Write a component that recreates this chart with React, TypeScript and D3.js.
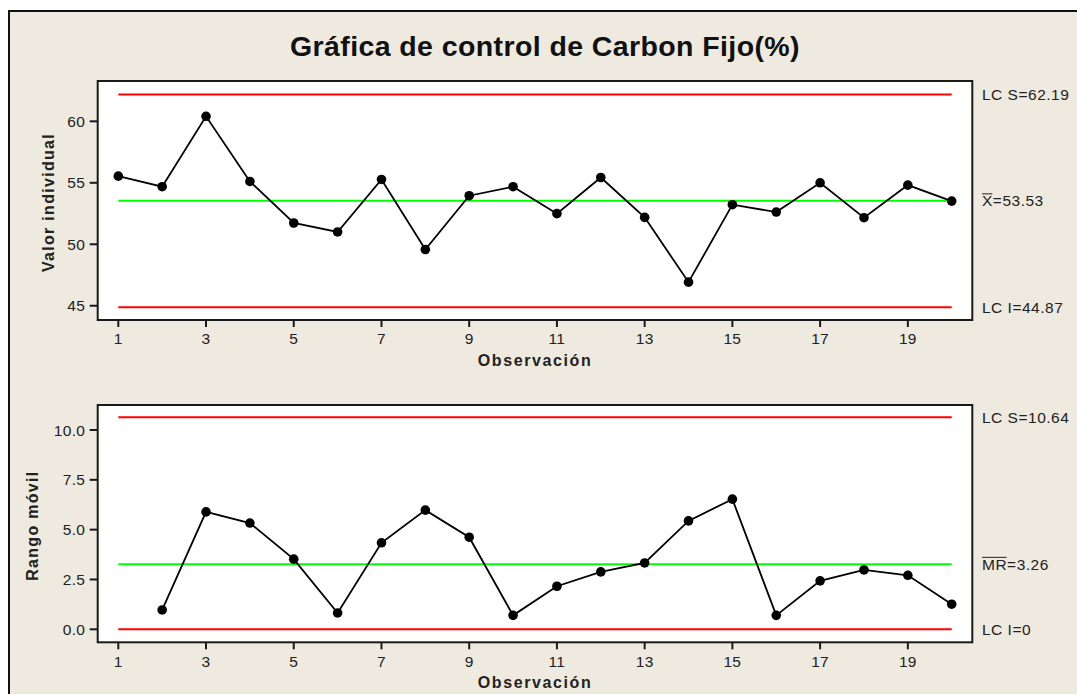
import React, { useEffect, useRef } from "react";
import * as d3 from "d3";

// ---- Data ----
const observations = [1, 2, 3, 4, 5, 6, 7, 8, 9, 10, 11, 12, 13, 14, 15, 16, 17, 18, 19, 20];
const individualValues = [55.54, 54.68, 60.41, 55.11, 51.73, 51.0, 55.27, 49.57, 53.95, 54.68, 52.49, 55.43, 52.19, 46.92, 53.22, 52.62, 55.0, 52.16, 54.81, 53.51];
const movingRanges: (number | null)[] = [null, 0.97, 5.89, 5.33, 3.52, 0.82, 4.34, 5.98, 4.62, 0.7, 2.16, 2.88, 3.33, 5.44, 6.53, 0.7, 2.43, 2.98, 2.71, 1.26];
const xTickValues = [1, 3, 5, 7, 9, 11, 13, 15, 17, 19];
const individualTicks = [45, 50, 55, 60];
const rangeTicks = [0, 2.5, 5, 7.5, 10];
const individualLimits = { ucl: 62.19, cl: 53.53, lcl: 44.87 };
const rangeLimits = { ucl: 10.64, cl: 3.26, lcl: 0 };
const individualLabels = { ucl: "LC S=62.19", clBar: "X", clRest: "=53.53", lcl: "LC I=44.87" };
const rangeLabels = { ucl: "LC S=10.64", clBar: "MR", clRest: "=3.26", lcl: "LC I=0" };

const W = 1077;
const H = 694;
const FONT = "'Liberation Sans', Arial, sans-serif";

export default function App() {
  const ref = useRef<SVGSVGElement | null>(null);

  useEffect(() => {
    const svg = d3.select(ref.current);
    svg.selectAll("*").remove();

    // page background + frame
    svg.append("rect").attr("x", 0).attr("y", 0).attr("width", W).attr("height", H).attr("fill", "#ffffff");
    svg
      .append("rect")
      .attr("x", 9)
      .attr("y", 11)
      .attr("width", W + 20)
      .attr("height", H + 20)
      .attr("fill", "#EEEAE0")
      .attr("stroke", "#111")
      .attr("stroke-width", 2);

    svg
      .append("text")
      .attr("x", 545)
      .attr("y", 56)
      .attr("text-anchor", "middle")
      .attr("font-family", FONT)
      .attr("font-weight", "bold")
      .attr("font-size", 28.5)
      .attr("letter-spacing", 0.4)
      .attr("fill", "#111")
      .text("Gráfica de control de Carbon Fijo(%)");

    const x = d3.scaleLinear().domain([1, 20]).range([118.3, 951.7]);
    const boxLeft = 97.7;
    const boxRight = 972.3;

    type Panel = {
      top: number;
      bottom: number;
      domain: [number, number];
      values: (number | null)[];
      ticks: number[];
      fmt: (v: number) => string;
      limits: { ucl: number; cl: number; lcl: number };
      labels: { ucl: string; clBar: string; clRest: string; lcl: string };
      yTitle: string;
      yTitleX: number;
      xTickBaseline: number;
      xTitleBaseline: number;
    };

    const panels: Panel[] = [
      {
        top: 81,
        bottom: 320,
        domain: [43.84, 63.28],
        values: individualValues,
        ticks: individualTicks,
        fmt: (v) => d3.format("d")(v),
        limits: individualLimits,
        labels: individualLabels,
        yTitle: "Valor individual",
        yTitleX: 53.5,
        xTickBaseline: 344.3,
        xTitleBaseline: 365.5,
      },
      {
        top: 405,
        bottom: 642.3,
        domain: [-0.652, 11.254],
        values: movingRanges,
        ticks: rangeTicks,
        fmt: (v) => d3.format(".1f")(v),
        limits: rangeLimits,
        labels: rangeLabels,
        yTitle: "Rango móvil",
        yTitleX: 37.5,
        xTickBaseline: 666.7,
        xTitleBaseline: 687.5,
      },
    ];

    panels.forEach((p) => {
      const y = d3.scaleLinear().domain(p.domain).range([p.bottom, p.top]);
      const g = svg.append("g");

      g.append("rect")
        .attr("x", boxLeft)
        .attr("y", p.top)
        .attr("width", boxRight - boxLeft)
        .attr("height", p.bottom - p.top)
        .attr("fill", "#ffffff")
        .attr("stroke", "#1a1a1a")
        .attr("stroke-width", 2);

      // y ticks
      p.ticks.forEach((t) => {
        g.append("line")
          .attr("x1", boxLeft - 8)
          .attr("x2", boxLeft)
          .attr("y1", y(t))
          .attr("y2", y(t))
          .attr("stroke", "#1a1a1a")
          .attr("stroke-width", 2);
        g.append("text")
          .attr("x", boxLeft - 12.5)
          .attr("y", y(t))
          .attr("dy", "0.36em")
          .attr("text-anchor", "end")
          .attr("font-family", FONT)
          .attr("font-size", 15.5)
          .attr("letter-spacing", 0.3)
          .attr("fill", "#222")
          .text(p.fmt(t));
      });

      // x ticks
      xTickValues.forEach((t) => {
        g.append("line")
          .attr("x1", x(t))
          .attr("x2", x(t))
          .attr("y1", p.bottom)
          .attr("y2", p.bottom + 7)
          .attr("stroke", "#1a1a1a")
          .attr("stroke-width", 2);
        g.append("text")
          .attr("x", x(t))
          .attr("y", p.xTickBaseline)
          .attr("text-anchor", "middle")
          .attr("font-family", FONT)
          .attr("font-size", 15.5)
          .attr("letter-spacing", 0.3)
          .attr("fill", "#222")
          .text(String(t));
      });

      // axis titles
      g.append("text")
        .attr("x", 535)
        .attr("y", p.xTitleBaseline)
        .attr("text-anchor", "middle")
        .attr("font-family", FONT)
        .attr("font-weight", "bold")
        .attr("font-size", 16)
        .attr("letter-spacing", 1.6)
        .attr("fill", "#222")
        .text("Observación");

      g.append("text")
        .attr("transform", `translate(${p.yTitleX},${(p.top + p.bottom) / 2 + 2}) rotate(-90)`)
        .attr("text-anchor", "middle")
        .attr("font-family", FONT)
        .attr("font-weight", "bold")
        .attr("font-size", 16)
        .attr("letter-spacing", 1.3)
        .attr("fill", "#222")
        .text(p.yTitle);

      // limit lines
      const limitLines: [number, string][] = [
        [p.limits.ucl, "#FF0000"],
        [p.limits.lcl, "#FF0000"],
        [p.limits.cl, "#00FF00"],
      ];
      limitLines.forEach(([v, c]) => {
        g.append("line")
          .attr("x1", x(observations[0]))
          .attr("x2", x(observations[observations.length - 1]))
          .attr("y1", y(v))
          .attr("y2", y(v))
          .attr("stroke", c)
          .attr("stroke-width", 2);
      });

      // data
      const pts = observations
        .map((o, i) => ({ o, v: p.values[i] }))
        .filter((d) => d.v !== null) as { o: number; v: number }[];
      const line = d3
        .line<{ o: number; v: number }>()
        .x((d) => x(d.o))
        .y((d) => y(d.v));
      g.append("path")
        .attr("d", line(pts) || "")
        .attr("fill", "none")
        .attr("stroke", "#000")
        .attr("stroke-width", 1.8);
      g.selectAll("circle.pt")
        .data(pts)
        .enter()
        .append("circle")
        .attr("class", "pt")
        .attr("cx", (d) => x(d.o))
        .attr("cy", (d) => y(d.v))
        .attr("r", 4.8)
        .attr("fill", "#000");

      // right labels
      const lx = 982;
      const addLabel = (v: number, txt: string) =>
        g
          .append("text")
          .attr("x", lx)
          .attr("y", y(v))
          .attr("dy", "0.36em")
          .attr("font-family", FONT)
          .attr("font-size", 15.5)
          .attr("letter-spacing", 0.5)
          .attr("fill", "#222")
          .text(txt);
      addLabel(p.limits.ucl, p.labels.ucl);
      addLabel(p.limits.lcl, p.labels.lcl);
      const cl = g
        .append("text")
        .attr("x", lx)
        .attr("y", y(p.limits.cl))
        .attr("dy", "0.36em")
        .attr("font-family", FONT)
        .attr("font-size", 15.5)
        .attr("letter-spacing", 0.5)
        .attr("fill", "#222");
      const bar = cl.append("tspan").text(p.labels.clBar);
      cl.append("tspan").text(p.labels.clRest);
      const barNode = bar.node() as SVGTSpanElement;
      let bw = 10;
      try {
        bw = (barNode as any).getComputedTextLength();
      } catch (e) {}
      g.append("line")
        .attr("x1", lx)
        .attr("x2", lx + bw - 0.5)
        .attr("y1", y(p.limits.cl) - 7)
        .attr("y2", y(p.limits.cl) - 7)
        .attr("stroke", "#222")
        .attr("stroke-width", 1);
    });
  }, []);

  return (
    <svg
      ref={ref}
      width={W}
      height={H}
      style={{ position: "absolute", left: 0, top: 0, display: "block" }}
    />
  );
}
